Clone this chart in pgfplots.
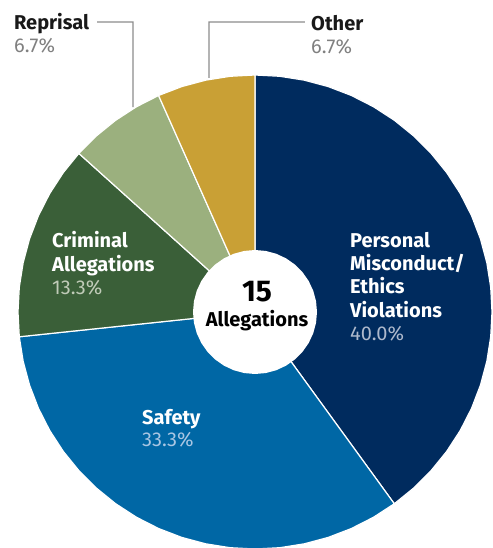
\documentclass[border=0pt]{standalone}
\usepackage{pgfplots}
\pgfplotsset{compat=1.18}
\usepgfplotslibrary{polar}
\usepackage{fontspec}
\setmainfont{Fira Sans}
\definecolor{cNavy}{RGB}{0,43,94}
\definecolor{cBlue}{RGB}{0,103,165}
\definecolor{cGreen}{RGB}{58,95,56}
\definecolor{cLight}{RGB}{155,176,126}
\definecolor{cGold}{RGB}{201,160,53}
\definecolor{pNavy}{RGB}{174,185,204}
\definecolor{pBlue}{RGB}{169,198,227}
\definecolor{pGreen}{RGB}{192,203,184}
\definecolor{gLine}{RGB}{140,140,140}
\begin{document}
\begin{tikzpicture}[x=1pt,y=1pt]
\path[use as bounding box] (0,0) rectangle (492,548);
\begin{polaraxis}[
  at={(255pt,236pt)}, anchor=center,
  scale only axis, width=474pt, height=474pt,
  ymin=0, ymax=237, hide axis, clip=false,
]
% Personal Misconduct/Ethics Violations 40.0% : 90 -> -54
\addplot[fill=cNavy, draw=white, line width=1.2pt, mark=none] coordinates {
 (0,0) (90,237) (84,237) (78,237) (72,237) (66,237) (60,237) (54,237) (48,237) (42,237)
 (36,237) (30,237) (24,237) (18,237) (12,237) (6,237) (0,237) (-6,237) (-12,237)
 (-18,237) (-24,237) (-30,237) (-36,237) (-42,237) (-48,237) (-54,237) (0,0)};
% Safety 33.3% : -54 -> -174
\addplot[fill=cBlue, draw=white, line width=1.2pt, mark=none] coordinates {
 (0,0) (-54,237) (-60,237) (-66,237) (-72,237) (-78,237) (-84,237) (-90,237) (-96,237)
 (-102,237) (-108,237) (-114,237) (-120,237) (-126,237) (-132,237) (-138,237)
 (-144,237) (-150,237) (-156,237) (-162,237) (-168,237) (-174,237) (0,0)};
% Criminal Allegations 13.3% : 186 -> 138
\addplot[fill=cGreen, draw=white, line width=1.2pt, mark=none] coordinates {
 (0,0) (186,237) (180,237) (174,237) (168,237) (162,237) (156,237) (150,237) (144,237) (138,237) (0,0)};
% Reprisal 6.7% : 138 -> 114
\addplot[fill=cLight, draw=white, line width=1.2pt, mark=none] coordinates {
 (0,0) (138,237) (132,237) (126,237) (120,237) (114,237) (0,0)};
% Other 6.7% : 114 -> 90
\addplot[fill=cGold, draw=white, line width=1.2pt, mark=none] coordinates {
 (0,0) (114,237) (108,237) (102,237) (96,237) (90,237) (0,0)};
% centre hole
\addplot[fill=white, draw=none, mark=none] coordinates {
 (0,62) (10,62) (20,62) (30,62) (40,62) (50,62) (60,62) (70,62) (80,62) (90,62)
 (100,62) (110,62) (120,62) (130,62) (140,62) (150,62) (160,62) (170,62) (180,62)
 (190,62) (200,62) (210,62) (220,62) (230,62) (240,62) (250,62) (260,62) (270,62)
 (280,62) (290,62) (300,62) (310,62) (320,62) (330,62) (340,62) (350,62) (360,62)};
% leader lines
\addplot[gLine, line width=1.1pt, mark=none, data cs=cart] coordinates {(-158,290) (-122,290) (-122,205)};
\addplot[gLine, line width=1.1pt, mark=none, data cs=cart] coordinates {(50,290) (-46,290) (-46,234)};
\end{polaraxis}
\tikzset{lab/.style={anchor=base west, inner sep=0pt, font=\fontsize{20}{24}\selectfont\bfseries, text=white},
         pct/.style={anchor=base west, inner sep=0pt, font=\fontsize{20}{24}\selectfont}}
\node[lab] at (350,300) {Personal};
\node[lab] at (350,277) {Misconduct/};
\node[lab] at (350,254) {Ethics};
\node[lab] at (350,230) {Violations};
\node[pct, text=pNavy] at (350,207) {40.0\%};
\node[lab] at (52,300) {Criminal};
\node[lab] at (52,276) {Allegations};
\node[pct, text=pGreen] at (52,253) {13.3\%};
\node[lab] at (142,123) {Safety};
\node[pct, text=pBlue] at (142,101) {33.3\%};
\node[anchor=base, inner sep=0pt, font=\fontsize{30}{34}\selectfont\bfseries] at (257,246) {15};
\node[anchor=base, inner sep=0pt, font=\fontsize{20}{24}\selectfont\bfseries] at (257,221) {Allegations};
\node[lab, text=black!90] at (14,518) {Reprisal};
\node[pct, text=gray] at (14,495) {6.7\%};
\node[lab, text=black!90] at (311,517) {Other};
\node[pct, text=gray] at (311,494) {6.7\%};
\end{tikzpicture}
\end{document}
